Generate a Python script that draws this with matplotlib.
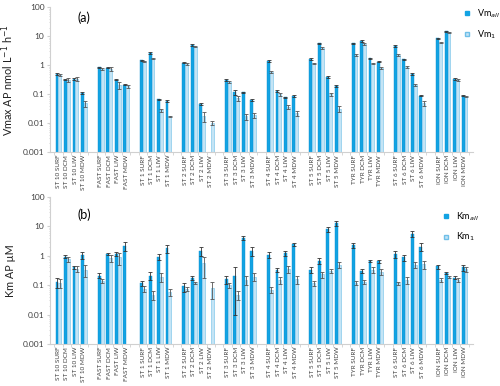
import numpy as np
import matplotlib
matplotlib.use("Agg")
import matplotlib.pyplot as plt
from matplotlib.lines import Line2D
from matplotlib.ticker import FixedLocator, NullFormatter

nan = np.nan

stations = ["ST 10", "FAST", "ST 1", "ST 2", "ST 3", "ST 4", "ST 5", "TYR", "ST 6", "ION"]
depths = ["SURF", "DCM", "LIW", "MDW"]

# panel (a) Vmax, nmol L-1 h-1
vm_all = [0.50, 0.32, 0.33, 0.107,
          0.85, 0.83, 0.32, 0.21,
          1.5, 2.7, 0.066, 0.058,
          1.22, 5.0, 0.045, nan,
          0.31, 0.115, 0.115, 0.063,
          1.4, 0.13, 0.078, 0.087,
          1.67, 5.7, 0.38, 0.19,
          5.7, 7.0, 1.73, 1.32,
          4.6, 1.6, 0.50, 0.089,
          8.5, 14.8, 0.33, 0.089]
vm_1 = [0.45, 0.31, 0.34, 0.048,
        0.75, 0.73, 0.21, 0.19,
        1.35, 1.7, 0.028, 0.017,
        1.1, 4.3, 0.018, 0.010,
        0.27, 0.075, 0.017, 0.019,
        0.6, 0.10, 0.037, 0.022,
        1.16, 4.0, 0.10, 0.032,
        2.25, 5.4, 1.16, 0.82,
        2.25, 0.89, 0.21, 0.048,
        6.0, 13.7, 0.31, 0.083]
vm_all_err = [0.03, 0.02, 0.02, 0.008,
              0.04, 0.04, 0.015, 0.01,
              0.07, 0.2, 0.004, 0.004,
              0.06, 0.25, 0.004, nan,
              0.015, 0.02, 0.008, 0.004,
              0.07, 0.01, 0.005, 0.005,
              0.1, 0.3, 0.03, 0.015,
              0.3, 0.4, 0.09, 0.07,
              0.25, 0.1, 0.03, 0.005,
              0.4, 0.6, 0.02, 0.005]
vm_1_err = [0.04, 0.05, 0.05, 0.012,
            0.04, 0.12, 0.06, 0.025,
            0.07, 0.1, 0.004, 0.001,
            0.06, 0.2, 0.007, 0.0015,
            0.02, 0.015, 0.004, 0.004,
            0.04, 0.01, 0.006, 0.004,
            0.07, 0.3, 0.01, 0.007,
            0.12, 0.4, 0.08, 0.06,
            0.15, 0.07, 0.02, 0.01,
            0.3, 0.7, 0.02, 0.006]

# panel (b) Km, uM
km_all = [0.13, 0.93, 0.40, 1.07,
          0.21, 1.12, 1.17, 2.2,
          0.115, 0.21, 0.91, 1.8,
          0.09, 0.18, 1.45, nan,
          0.16, 0.21, 4.0, 1.45,
          1.07, 0.33, 1.2, 2.45,
          0.33, 0.66, 7.9, 12.7,
          2.3, 0.30, 0.66, 0.66,
          1.12, 0.87, 5.6, 2.05,
          0.43, 0.25, 0.18, 0.40]
km_1 = [0.12, 0.78, 0.35, 0.33,
        0.14, 0.82, 0.87, nan,
        0.075, 0.047, 0.195, 0.057,
        0.075, 0.12, 0.55, 0.08,
        0.10, 0.047, 0.15, 0.195,
        0.069, 0.15, 0.35, 0.16,
        0.115, 0.23, 0.30, 0.49,
        0.12, 0.13, 0.33, 0.28,
        0.115, 0.15, 0.49, 0.51,
        0.15, 0.19, 0.15, 0.35]
km_all_err = [0.05, 0.1, 0.05, 0.3,
              0.04, 0.1, 0.2, 0.8,
              0.02, 0.06, 0.2, 0.6,
              0.03, 0.03, 0.5, nan,
              0.05, 0.2, 0.7, 0.5,
              0.25, 0.06, 0.25, 0.3,
              0.08, 0.15, 1.5, 2.5,
              0.5, 0.04, 0.07, 0.08,
              0.3, 0.2, 1.2, 0.6,
              0.07, 0.02, 0.02, 0.1]
km_1_err = [0.04, 0.15, 0.08, 0.14,
            0.02, 0.2, 0.4, nan,
            0.015, 0.015, 0.07, 0.015,
            0.01, 0.01, 0.38, 0.045,
            0.02, 0.015, 0.05, 0.06,
            0.015, 0.04, 0.1, 0.05,
            0.02, 0.05, 0.05, 0.12,
            0.02, 0.02, 0.07, 0.06,
            0.015, 0.04, 0.1, 0.15,
            0.02, 0.02, 0.02, 0.07]

labels = [f"{s} {d}" for s in stations for d in depths]
# one empty category before each station group, like the Excel sheet
xpos = np.array([1 + gi * 5 + di for gi in range(len(stations)) for di in range(len(depths))])

DARK = "#12a3e3"
LIGHT = "#c4e4f5"
LIGHT_EDGE = "#6fbfe8"
GREY = "#d0d0d0"
TXT = "#404040"

plt.rcParams["font.family"] = ["Lato", "DejaVu Sans"]
fig = plt.figure(figsize=(5.0, 3.86), dpi=100)
ax_a = fig.add_axes([0.10, 0.606, 0.846, 0.375])
ax_b = fig.add_axes([0.10, 0.109, 0.846, 0.381])

w = 0.34


def draw_panel(ax, v_all, v_1, e_all, e_1, ylabel, tag, tag_y, names, leg_xy):
    ax.set_yscale("log")
    ax.bar(xpos - 0.17, v_all, w, color=DARK, edgecolor="#0a8fcf", linewidth=0.3,
           yerr=e_all, error_kw=dict(ecolor="#333333", elinewidth=0.6, capsize=1.3, capthick=0.6))
    ax.bar(xpos + 0.17, v_1, w, color=LIGHT, edgecolor=LIGHT_EDGE, linewidth=0.4,
           yerr=e_1, error_kw=dict(ecolor="#555555", elinewidth=0.6, capsize=1.3, capthick=0.6))
    ax.set_ylim(0.001, 100)
    ax.set_xlim(0, 50)
    ax.set_yticks([0.001, 0.01, 0.1, 1, 10, 100])
    ax.set_yticklabels(["0.001", "0.01", "0.1", "1", "10", "100"])
    ax.yaxis.set_minor_formatter(NullFormatter())
    ax.tick_params(axis="y", which="major", labelsize=6, length=2, color=GREY, pad=2,
                   labelcolor=TXT)
    ax.tick_params(axis="y", which="minor", length=1, color=GREY)
    ax.set_xticks(xpos)
    ax.set_xticklabels(labels, rotation=90, fontsize=4.6, color=TXT)
    ax.xaxis.set_minor_locator(FixedLocator(np.arange(0.5, 50.5, 1)))
    ax.tick_params(axis="x", which="major", length=0, pad=2)
    ax.tick_params(axis="x", which="minor", length=2, color=GREY)
    for side in ["top", "right"]:
        ax.spines[side].set_visible(False)
    for side in ["left", "bottom"]:
        ax.spines[side].set_color(GREY)
        ax.spines[side].set_linewidth(0.8)
    ax.set_ylabel(ylabel, fontsize=7.8, labelpad=5, color="#222222")
    ax.text(0.066, tag_y, tag, transform=ax.transAxes, fontsize=9, va="center")
    handles = [Line2D([], [], marker="s", linestyle="none", markersize=3.5,
                      markerfacecolor=DARK, markeredgecolor=DARK),
               Line2D([], [], marker="s", linestyle="none", markersize=3.5,
                      markerfacecolor=LIGHT, markeredgecolor=LIGHT_EDGE)]
    fig.legend(handles, names, loc="upper left", bbox_to_anchor=leg_xy, frameon=False,
               fontsize=6.5, handletextpad=0.6, labelspacing=0.9, handlelength=1.0,
               borderaxespad=0)


draw_panel(ax_a, vm_all, vm_1, vm_all_err, vm_1_err,
           "Vmax AP nmol L$^{-1}$ h$^{-1}$", "(a)", 0.93,
           ["Vm$_{all}$", "Vm$_{1}$"], (0.918, 0.99))
draw_panel(ax_b, km_all, km_1, km_all_err, km_1_err,
           "Km AP µM", "(b)", 0.88,
           ["Km$_{all}$", "Km$_{1}$"], (0.875, 0.465))

fig.savefig("out.png", dpi=100)
